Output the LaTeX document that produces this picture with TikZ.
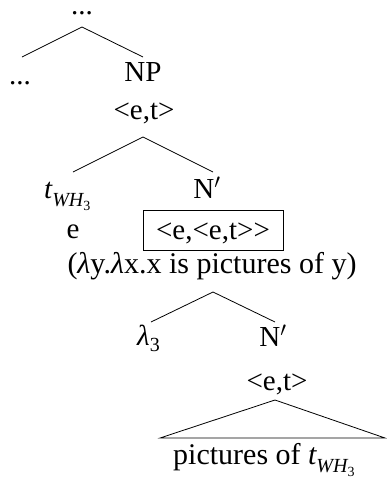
\documentclass[tikz,border=0pt]{standalone}
\usepackage{fontspec}
\setmainfont{Liberation Serif}
\newcommand{\twh}{{\itshape t}\raisebox{-0.28em}{\fontsize{20}{22}\selectfont\itshape WH\raisebox{-0.22em}{\fontsize{14}{16}\selectfont\upshape 3}}}
\begin{document}
\begin{tikzpicture}[x=1pt,y=-1pt,
  lbl/.style={font=\fontsize{29}{32}\selectfont, inner sep=0pt, anchor=base},
  edge/.style={line width=0.8pt},
  typebox/.style={draw, line width=0.8pt, minimum width=140pt, minimum height=40pt, inner sep=0pt}]
\useasboundingbox (0,0) rectangle (386,479);
% nodes
\node[lbl] (top) at (82,14) {...};
\node[lbl] (ldots) at (20,84) {...};
\node[lbl] (np) at (143,81) {NP};
\node[lbl] (npt) at (144,119) {<e,t>};
\node[lbl, anchor=base west] (twh) at (44,198) {\twh};
\node[lbl] (nbar) at (207,198) {N$'$};
\node[lbl] (e) at (73,238) {e};
\node[typebox] (box) at (213,230) {};
\node[lbl] (boxt) at (213,239) {<e,<e,t>{}>};
\node[lbl, font=\fontsize{30}{32}\selectfont] (sem) at (212,273) {(\textit{λ}y.\textit{λ}x.x is pictures of y)};
\node[lbl, anchor=base west] (lam) at (137,345) {\textit{λ}\raisebox{-0.22em}{\fontsize{20}{22}\selectfont 3}};
\node[lbl] (nbar2) at (273,346) {N$'$};
\node[lbl] (nt2) at (277,390) {<e,t>};
\node[lbl, font=\fontsize{30}{32}\selectfont, anchor=base west] (pic) at (173,464) {pictures of \twh};
% coordinates
\coordinate (a1) at (82,27);
\coordinate (l1) at (22,57);
\coordinate (r1) at (143,57);
\coordinate (a2) at (143,137);
\coordinate (l2) at (73,172);
\coordinate (r2) at (213,172);
\coordinate (a3) at (213,292);
\coordinate (l3) at (151,322);
\coordinate (r3) at (275,322);
\coordinate (a4) at (275,400);
\coordinate (l4) at (160,438);
\coordinate (r4) at (385,438);
% edges
\draw[edge] (l1) -- (a1) -- (r1);
\draw[edge] (l2) -- (a2) -- (r2);
\draw[edge] (l3) -- (a3) -- (r3);
\draw[edge] (l4) -- (a4) -- (r4) -- cycle;
\end{tikzpicture}
\end{document}
